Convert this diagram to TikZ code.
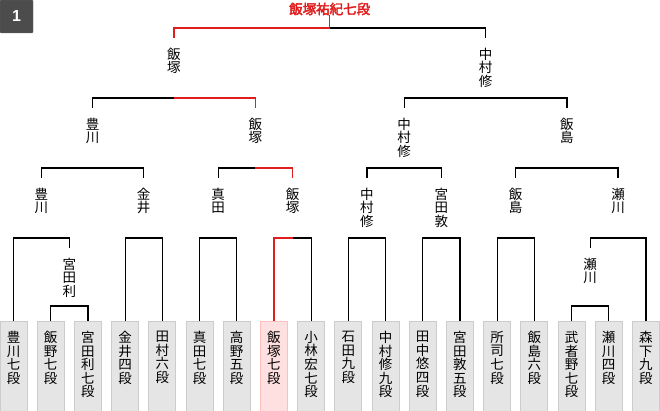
\documentclass[tikz,border=0pt]{standalone}
\usepackage{fontspec}
\newfontfamily\cjk{Noto Sans CJK JP}
\newfontfamily\cjkb[FakeBold=3]{Noto Sans CJK JP}
\setmainfont{Liberation Sans}
\definecolor{rd}{HTML}{E01E1E}
\begin{document}
\begin{tikzpicture}[x=1pt,y=-1pt,
  lab/.style={font=\cjk\fontsize{13.5}{13.6}\selectfont,align=center,inner sep=0pt,outer xsep=0pt,outer ysep=10pt,anchor=north},
  pbox/.style={draw=black!20,fill=black!10,minimum width=27pt,minimum height=90pt,inner sep=0pt,anchor=north,line width=0.8pt},
  pink/.style={draw=red!25,fill=red!12},
  ptxt/.style={font=\cjk\fontsize{13.5}{13.6}\selectfont,align=center,inner sep=0pt,anchor=north},
  ln/.style={line width=1.2pt,black},
  rl/.style={line width=1.2pt,rd}]
\useasboundingbox (0,0) rectangle (660,411);
% badge
\node[draw=black!60,fill=black!70,rounded corners=1pt,minimum width=33pt,minimum height=33pt,inner sep=0pt,
  text=white,font=\bfseries\fontsize{16}{16}\selectfont] (badge) at (16.5,16.5) {1};
% title
\node[font=\cjkb\fontsize{13.5}{13.5}\selectfont,text=rd,inner sep=0pt] (title) at (329.7,9) {飯塚祐紀七段};
% players
\foreach \i/\t in {0/豊\\川\\七\\段,1/飯\\野\\七\\段,2/宮\\田\\利\\七\\段,3/金\\井\\四\\段,4/田\\村\\六\\段,5/真\\田\\七\\段,6/高\\野\\五\\段,8/小\\林\\宏\\七\\段,9/石\\田\\九\\段,10/中\\村\\修\\九\\段,11/田\\中\\悠\\四\\段,12/宮\\田\\敦\\五\\段,13/所\\司\\七\\段,14/飯\\島\\六\\段,15/武\\者\\野\\七\\段,16/瀬\\川\\四\\段,17/森\\下\\九\\段}{
  \node[pbox] (p\i) at ({13.5+37.2*\i},321) {};
  \node[ptxt] (t\i) at ({13.5+37.2*\i},331) {\t};
}
\node[pbox,pink] (p7) at ({13.5+37.2*7},321) {};
\node[ptxt] (t7) at ({13.5+37.2*7},331) {飯\\塚\\七\\段};
% labels
\node[lab] (W1) at (69.3,248) {宮\\田\\利};
\node[lab] (W2) at (590.1,248) {瀬\\川};
\node[lab] (A1) at (41.4,178) {豊\\川};
\node[lab] (A2) at (143.7,178) {金\\井};
\node[lab] (A3) at (218.1,178) {真\\田};
\node[lab] (A4) at (292.5,178) {飯\\塚};
\node[lab] (A5) at (366.9,178) {中\\村\\修};
\node[lab] (A6) at (441.3,178) {宮\\田\\敦};
\node[lab] (A7) at (515.7,178) {飯\\島};
\node[lab] (A8) at (618.0,178) {瀬\\川};
\node[lab] (B1) at (92.6,108) {豊\\川};
\node[lab] (B2) at (255.3,108) {飯\\塚};
\node[lab] (B3) at (404.1,108) {中\\村\\修};
\node[lab] (B4) at (566.9,108) {飯\\島};
\node[lab] (C1) at (173.9,38) {飯\\塚};
\node[lab] (C2) at (485.5,38) {中\\村\\修};
% brackets
\coordinate (m1) at (69.3,306);
\draw[ln] (p1.north) |- (m1) -| (p2.north);
\coordinate (m2) at (590.1,306);
\draw[ln] (p15.north) |- (m2) -| (p16.north);
\foreach \a/\b/\x in {p0.north/W1.north/41.4, p3.north/p4.north/143.7, p5.north/p6.north/218.1, p7.north/p8.north/292.5, p9.north/p10.north/366.9, p11.north/p12.north/441.3, p13.north/p14.north/515.7, W2.north/p17.north/618}{
  \coordinate (mm) at (\x,238);
  \draw[ln] (\a) |- (mm) -| (\b);
}
\foreach \a/\b/\x in {A1/A2/92.6, A3/A4/255.3, A5/A6/404.1, A7/A8/566.9}{
  \coordinate (mm) at (\x,168);
  \draw[ln] (\a.north) |- (mm) -| (\b.north);
}
\foreach \a/\b/\x in {B1/B2/173.9, B3/B4/485.5}{
  \coordinate (mm) at (\x,98);
  \draw[ln] (\a.north) |- (mm) -| (\b.north);
}
\coordinate (mt) at (329.7,28);
\draw[ln] (C1.north) |- (mt) -| (C2.north);
% red winner path
\coordinate (r1) at (292.5,238);
\draw[rl] (p7.north) |- (r1);
\coordinate (r2) at (255.3,168);
\draw[rl] (r2) -| (A4.north);
\coordinate (r3) at (173.9,98);
\draw[rl] (r3) -| (B2.north);
\draw[rl] (C1.north) |- (mt) -- (title.south);
\end{tikzpicture}
\end{document}
